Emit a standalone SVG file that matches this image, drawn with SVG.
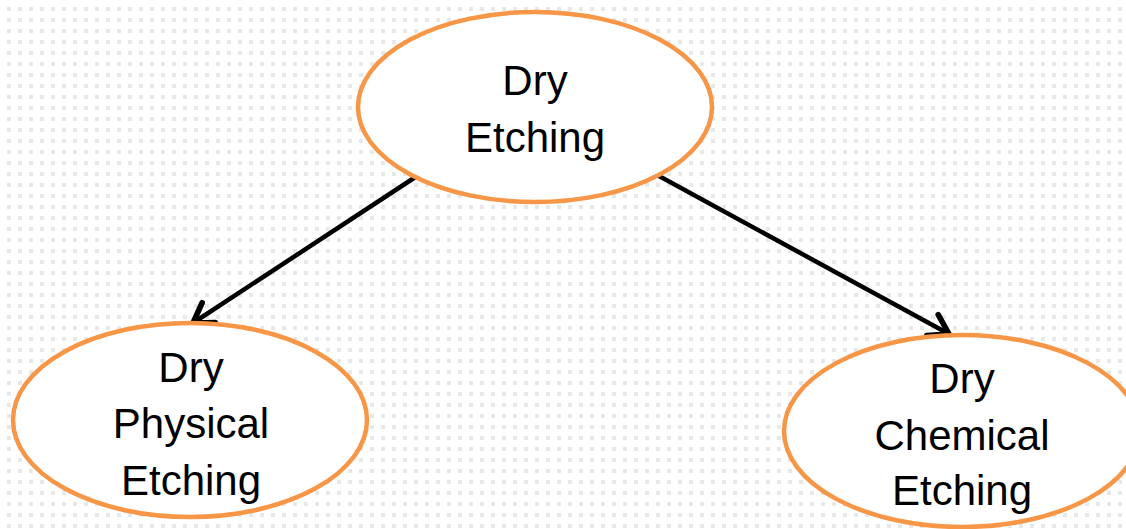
<svg xmlns="http://www.w3.org/2000/svg" width="1126" height="529" viewBox="0 0 1126 529">
  <style>
    .node ellipse { fill: #ffffff; stroke: #f79646; stroke-width: 4.5; }
    .node text { font-family: "Liberation Sans", Arial, sans-serif; font-size: 42px; fill: #000000; text-anchor: middle; }
    .link { stroke: #000000; stroke-width: 4.5; fill: none; stroke-linecap: round; }
  </style>
  <defs>
    <pattern id="dots" x="0" y="0" width="11" height="11" patternUnits="userSpaceOnUse">
      <rect x="7" y="7" width="5" height="5" fill="#e8e8e8"/>
    </pattern>
    <marker id="arrow" markerUnits="userSpaceOnUse" markerWidth="30" markerHeight="30" refX="0" refY="0" viewBox="-18 -12 22 24" orient="auto" overflow="visible">
      <path d="M-15,-9.5 L0,0 L-15,9.5" fill="none" stroke="#000000" stroke-width="4.5" stroke-linecap="round" stroke-linejoin="round"/>
    </marker>
  </defs>

  <!-- dotted backdrop -->
  <rect width="1126" height="529" fill="#ffffff"/>
  <rect width="1126" height="529" fill="url(#dots)"/>

  <!-- connectors -->
  <g id="connectors">
    <line class="link" x1="417" y1="176" x2="193" y2="323" marker-end="url(#arrow)"/>
    <line class="link" x1="659" y1="176" x2="949" y2="334" marker-end="url(#arrow)"/>
  </g>

  <g id="dry-etching" class="node">
    <ellipse cx="535" cy="107" rx="177" ry="95"/>
    <text x="535" y="95">Dry</text>
    <text x="535" y="152">Etching</text>
  </g>

  <g id="dry-physical-etching" class="node">
    <ellipse cx="190" cy="420" rx="177" ry="97"/>
    <text x="191" y="382">Dry</text>
    <text x="191" y="438">Physical</text>
    <text x="191" y="495">Etching</text>
  </g>

  <g id="dry-chemical-etching" class="node">
    <ellipse cx="962" cy="431" rx="178" ry="96"/>
    <text x="962" y="393">Dry</text>
    <text x="962" y="450">Chemical</text>
    <text x="962" y="505">Etching</text>
  </g>
</svg>
